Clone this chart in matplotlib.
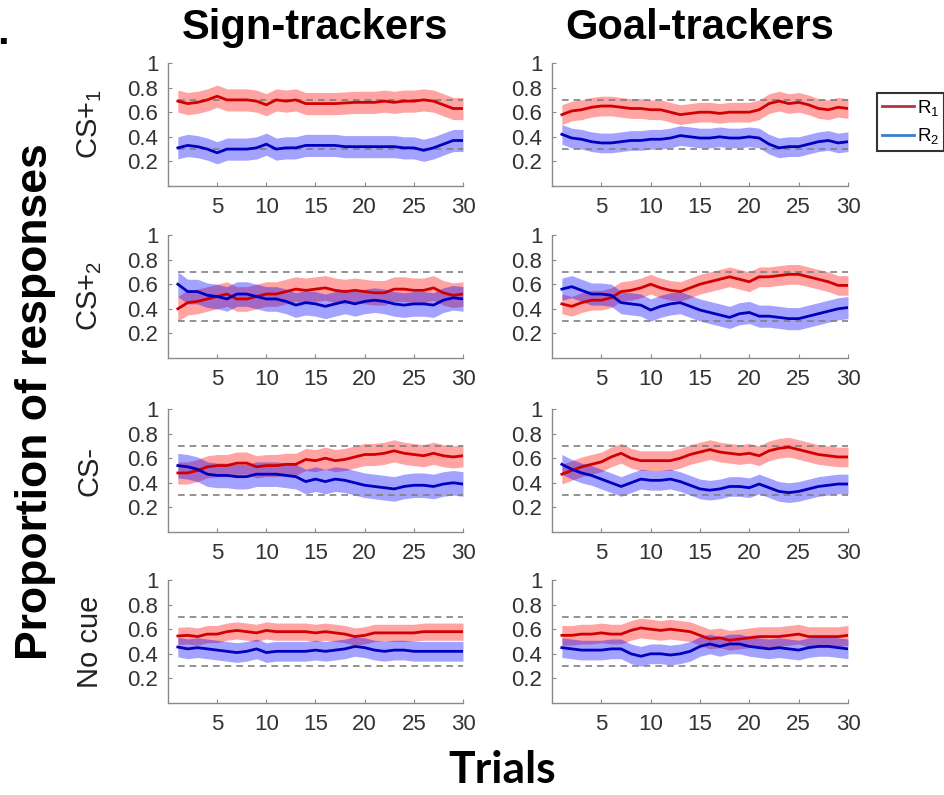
import numpy as np
import matplotlib
matplotlib.use("Agg")
import matplotlib.pyplot as plt
from matplotlib.lines import Line2D

plt.rcParams['font.family'] = ['Liberation Sans', 'DejaVu Sans']
plt.rcParams['mathtext.fontset'] = 'custom'
plt.rcParams['mathtext.rm'] = 'Liberation Sans'
plt.rcParams['mathtext.it'] = 'Liberation Sans:italic'
plt.rcParams['mathtext.bf'] = 'Liberation Sans:bold'

trials = np.arange(1, 31)
groups = ["Sign-trackers", "Goal-trackers"]
cues = ["CS+$_\\mathrm{1}$", "CS+$_\\mathrm{2}$", "CS-", "No cue"]
y_ticks = [0.2, 0.4, 0.6, 0.8, 1]
y_tick_labels = ["0.2", "0.4", "0.6", "0.8", "1"]
x_ticks = [5, 10, 15, 20, 25, 30]
chance_lines = [0.3, 0.7]

# Sign-trackers
st_cs1_r1 = [0.69, 0.67, 0.68, 0.70, 0.73, 0.70, 0.70, 0.70, 0.69, 0.66, 0.70, 0.69, 0.70, 0.67, 0.67,
             0.67, 0.67, 0.675, 0.68, 0.68, 0.68, 0.69, 0.68, 0.69, 0.69, 0.70, 0.69, 0.66, 0.63, 0.63]
st_cs1_r2 = [0.31, 0.33, 0.32, 0.30, 0.27, 0.30, 0.30, 0.30, 0.31, 0.34, 0.30, 0.31, 0.31, 0.33, 0.33,
             0.33, 0.33, 0.32, 0.32, 0.32, 0.32, 0.32, 0.32, 0.31, 0.31, 0.29, 0.31, 0.34, 0.37, 0.37]
st_cs2_r1 = [0.40, 0.45, 0.46, 0.48, 0.50, 0.52, 0.48, 0.48, 0.50, 0.52, 0.52, 0.54, 0.56, 0.55, 0.56,
             0.57, 0.55, 0.54, 0.55, 0.54, 0.53, 0.53, 0.56, 0.56, 0.55, 0.55, 0.57, 0.53, 0.51, 0.52]
st_cs2_r2 = [0.60, 0.54, 0.54, 0.51, 0.50, 0.48, 0.52, 0.52, 0.50, 0.48, 0.48, 0.46, 0.43, 0.45, 0.44,
             0.42, 0.44, 0.46, 0.44, 0.46, 0.47, 0.46, 0.44, 0.43, 0.44, 0.44, 0.43, 0.47, 0.49, 0.48]
st_csm_r1 = [0.48, 0.48, 0.50, 0.53, 0.54, 0.54, 0.56, 0.56, 0.53, 0.54, 0.54, 0.55, 0.55, 0.59, 0.58,
             0.60, 0.58, 0.59, 0.61, 0.63, 0.63, 0.64, 0.66, 0.64, 0.63, 0.62, 0.64, 0.62, 0.61, 0.62]
st_csm_r2 = [0.54, 0.53, 0.51, 0.47, 0.46, 0.46, 0.45, 0.45, 0.47, 0.47, 0.47, 0.46, 0.45, 0.41, 0.43,
             0.41, 0.43, 0.42, 0.40, 0.38, 0.37, 0.36, 0.35, 0.37, 0.38, 0.38, 0.37, 0.39, 0.40, 0.39]
st_nc_r1 = [0.545, 0.55, 0.54, 0.56, 0.56, 0.58, 0.59, 0.58, 0.57, 0.59, 0.58, 0.58, 0.58, 0.58, 0.57,
            0.58, 0.57, 0.56, 0.54, 0.55, 0.57, 0.57, 0.57, 0.57, 0.57, 0.58, 0.58, 0.58, 0.58, 0.58]
st_nc_r2 = [0.455, 0.44, 0.45, 0.44, 0.43, 0.42, 0.41, 0.42, 0.44, 0.41, 0.42, 0.42, 0.42, 0.42, 0.43,
            0.42, 0.43, 0.44, 0.46, 0.45, 0.43, 0.42, 0.43, 0.43, 0.42, 0.42, 0.42, 0.42, 0.42, 0.42]

# Goal-trackers
gt_cs1_r1 = [0.58, 0.61, 0.62, 0.64, 0.65, 0.65, 0.64, 0.63, 0.63, 0.62, 0.62, 0.60, 0.58, 0.59, 0.60,
             0.60, 0.59, 0.60, 0.60, 0.60, 0.62, 0.67, 0.69, 0.67, 0.68, 0.66, 0.63, 0.62, 0.64, 0.63]
gt_cs1_r2 = [0.42, 0.39, 0.38, 0.36, 0.35, 0.35, 0.36, 0.37, 0.37, 0.38, 0.38, 0.39, 0.41, 0.40, 0.39,
             0.39, 0.40, 0.39, 0.39, 0.40, 0.39, 0.34, 0.31, 0.32, 0.32, 0.34, 0.36, 0.37, 0.35, 0.36]
gt_cs2_r1 = [0.44, 0.42, 0.45, 0.47, 0.47, 0.49, 0.54, 0.55, 0.57, 0.60, 0.57, 0.55, 0.54, 0.57, 0.60,
             0.62, 0.64, 0.66, 0.64, 0.62, 0.66, 0.66, 0.67, 0.68, 0.68, 0.66, 0.64, 0.62, 0.59, 0.59]
gt_cs2_r2 = [0.56, 0.58, 0.55, 0.52, 0.52, 0.51, 0.45, 0.44, 0.43, 0.39, 0.42, 0.44, 0.45, 0.42, 0.39,
             0.37, 0.35, 0.33, 0.36, 0.37, 0.34, 0.34, 0.33, 0.32, 0.32, 0.34, 0.36, 0.38, 0.40, 0.41]
gt_csm_r1 = [0.47, 0.50, 0.53, 0.55, 0.57, 0.61, 0.64, 0.60, 0.58, 0.58, 0.58, 0.58, 0.60, 0.63, 0.65,
             0.67, 0.65, 0.64, 0.63, 0.64, 0.62, 0.66, 0.68, 0.69, 0.67, 0.65, 0.63, 0.62, 0.61, 0.61]
gt_csm_r2 = [0.55, 0.51, 0.48, 0.46, 0.43, 0.40, 0.37, 0.40, 0.43, 0.42, 0.42, 0.43, 0.41, 0.38, 0.35,
             0.34, 0.35, 0.37, 0.37, 0.36, 0.39, 0.36, 0.33, 0.32, 0.33, 0.35, 0.37, 0.38, 0.39, 0.39]
gt_nc_r1 = [0.55, 0.55, 0.56, 0.56, 0.57, 0.56, 0.56, 0.59, 0.61, 0.60, 0.59, 0.60, 0.59, 0.58, 0.55,
            0.52, 0.53, 0.51, 0.52, 0.53, 0.54, 0.54, 0.54, 0.55, 0.56, 0.54, 0.54, 0.54, 0.54, 0.55]
gt_nc_r2 = [0.45, 0.44, 0.43, 0.43, 0.43, 0.44, 0.44, 0.40, 0.38, 0.40, 0.40, 0.39, 0.40, 0.42, 0.46,
            0.48, 0.46, 0.48, 0.48, 0.46, 0.45, 0.44, 0.45, 0.44, 0.43, 0.45, 0.46, 0.46, 0.45, 0.44]

# band half-widths (SEM) per panel: [R1, R2]
st_sem = [[0.09, 0.09], [0.10, 0.10], [0.09, 0.10], [0.07, 0.08]]
gt_sem = [[0.08, 0.08], [0.08, 0.09], [0.08, 0.08], [0.08, 0.08]]

data = {
    0: [(st_cs1_r1, st_cs1_r2), (st_cs2_r1, st_cs2_r2), (st_csm_r1, st_csm_r2), (st_nc_r1, st_nc_r2)],
    1: [(gt_cs1_r1, gt_cs1_r2), (gt_cs2_r1, gt_cs2_r2), (gt_csm_r1, gt_csm_r2), (gt_nc_r1, gt_nc_r2)],
}
sems = {0: st_sem, 1: gt_sem}

W, H = 945, 795
fig = plt.figure(figsize=(W / 100, H / 100), dpi=100)

col_left = [168, 552]
col_width = [295, 296]
row_top = [63, 235, 409, 580]
ax_h = 123

line_red = (0.82, 0.0, 0.0)
line_blue = (0.0, 0.0, 0.74)
spine_col = '#8a8a8a'
tick_col = '#333333'

for c in range(2):
    for r in range(4):
        l = col_left[c] / W
        b = (H - row_top[r] - ax_h) / H
        ax = fig.add_axes([l, b, col_width[c] / W, ax_h / H])
        r1, r2 = data[c][r]
        s1, s2 = sems[c][r]
        r1 = np.array(r1); r2 = np.array(r2)
        ax.fill_between(trials, r1 - s1, r1 + s1, color=(1, 0, 0), alpha=0.36, lw=0)
        ax.fill_between(trials, r2 - s2, r2 + s2, color=(0, 0, 1), alpha=0.36, lw=0)
        for yv in chance_lines:
            ax.plot([trials[0], trials[-1]], [yv, yv], color='#808080', lw=1.2, ls=(0, (4, 3)))
        ax.plot(trials, r1, color=line_red, lw=2)
        ax.plot(trials, r2, color=line_blue, lw=2)
        ax.set_xlim(0, 30)
        ax.set_ylim(0, 1)
        ax.set_xticks(x_ticks)
        ax.set_yticks(y_ticks)
        ax.set_yticklabels(y_tick_labels)
        for sp in ['top', 'right']:
            ax.spines[sp].set_visible(False)
        for sp in ['left', 'bottom']:
            ax.spines[sp].set_color(spine_col)
            ax.spines[sp].set_linewidth(1.0)
        ax.tick_params(direction='in', length=3, width=0.8, color=spine_col,
                       labelsize=16, labelcolor=tick_col, pad=7)
        ax.tick_params(axis='x', pad=8)
        if c == 0:
            yc = (H - row_top[r] - ax_h / 2) / H
            fig.text(90 / W, yc, cues[r], rotation=90, ha='center', va='center',
                     fontsize=21, color='#222222')
        if r == 0:
            fig.text((col_left[c] + col_width[c] / 2) / W, 1 - 28 / H, groups[c],
                     ha='center', va='center', fontsize=30, fontweight='bold')

fig.text(36 / W, 1 - 402 / H, "Proportion of responses", rotation=90, ha='center',
         va='center', fontsize=32, fontweight='bold')
fig.text(502 / W, 1 - 770 / H, "Trials", ha='center', va='center', fontsize=32,
         fontweight='bold', family=['Lato', 'DejaVu Sans'])
fig.text(-3 / W, 1 - 44 / H, ".", ha='left', va='baseline', fontsize=30, fontweight='bold')

handles = [Line2D([], [], color=(0.72, 0.2, 0.25), lw=2),
           Line2D([], [], color=(0.22, 0.5, 0.78), lw=2)]
leg = fig.legend(handles, ["R$_\\mathrm{1}$", "R$_\\mathrm{2}$"], loc='upper left',
                 bbox_to_anchor=(877 / W, 1 - 93 / H), fontsize=13.5, frameon=True,
                 fancybox=False, handlelength=1.75, handletextpad=0.12, borderpad=0.25,
                 borderaxespad=0, labelspacing=0.45)
leg.get_frame().set_edgecolor('black')
leg.get_frame().set_linewidth(1.5)

fig.savefig("out.png", dpi=100)
